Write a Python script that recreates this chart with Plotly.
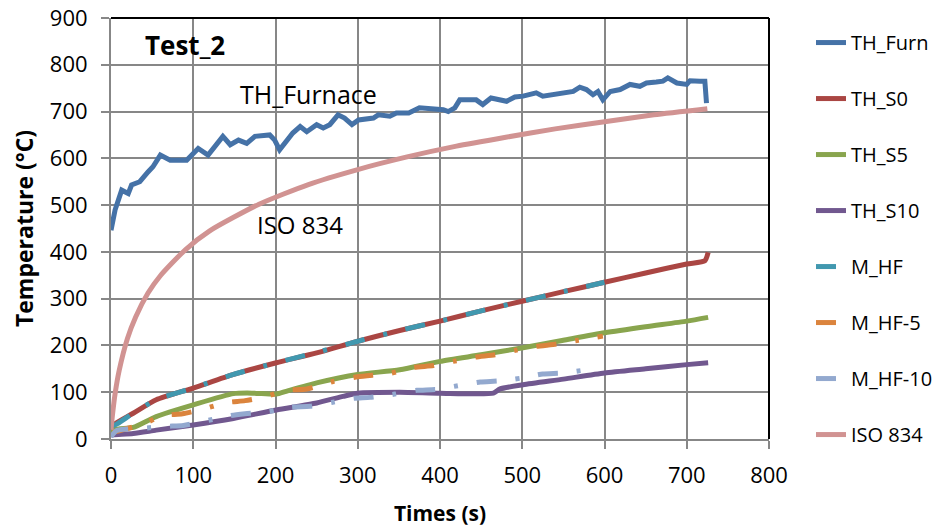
import plotly.graph_objects as go

# ---------------- data ----------------
t_furn = [0, 5, 13, 21, 25, 35, 45, 51, 60, 72, 92, 98, 106, 118, 126, 136, 145, 155, 165, 175,
          193, 199, 205, 213, 221, 230, 238, 250, 258, 266, 276, 284, 293, 301, 319, 325, 339, 347,
          362, 375, 404, 410, 418, 424, 444, 452, 462, 481, 491, 501, 517, 525, 546, 562, 570, 578,
          586, 592, 598, 607, 619, 631, 643, 651, 663, 671, 677, 688, 700, 704, 716, 722, 724]
T_furn = [446, 490, 532, 525, 543, 550, 571, 582, 607, 596, 596, 607, 621, 607, 625, 647, 629, 639, 632, 647,
          650, 639, 618, 636, 654, 668, 657, 672, 665, 672, 693, 686, 672, 682, 686, 693, 690, 697,
          697, 708, 704, 700, 708, 725, 725, 715, 729, 722, 731, 733, 740, 733, 740, 743, 752, 747,
          736, 743, 725, 743, 747, 758, 754, 761, 763, 765, 772, 761, 758, 766, 765, 765, 718]

t_s0 = [0, 3, 27, 55, 100, 149, 201, 250, 300, 351, 400, 450, 501, 550, 600, 650, 700, 722, 726]
T_s0 = [20, 30, 55, 84, 109, 138, 163, 184, 209, 232, 252, 274, 295, 315, 335, 355, 374, 381, 399]

t_s5 = [0, 5, 27, 55, 100, 149, 173, 201, 213, 250, 300, 351, 400, 450, 501, 550, 600, 650, 700, 726]
T_s5 = [12, 20, 25, 48, 73, 97, 98, 96, 102, 120, 138, 148, 166, 180, 195, 211, 227, 240, 252, 260]

t_s10 = [0, 3, 27, 55, 100, 149, 201, 250, 282, 300, 351, 400, 465, 473, 501, 550, 600, 650, 700, 726]
T_s10 = [8, 9, 12, 19, 30, 44, 62, 77, 91, 98, 100, 98, 98, 107, 116, 128, 141, 150, 159, 163]

t_mhf = [2, 8, 27, 55, 100, 149, 201, 250, 300, 351, 400, 450, 501, 550, 600]
T_mhf = [28, 33, 55, 84, 109, 138, 163, 185, 209, 232, 252, 274, 295, 315, 335]

t_mhf5 = [2, 39, 63, 87, 114, 141, 163, 189, 213, 238, 270, 300, 341, 368, 392, 416, 443, 467,
          493, 517, 542, 568, 598]
T_mhf5 = [14, 32, 50, 54, 65, 78, 82, 91, 104, 107, 123, 133, 141, 153, 157, 166, 175, 180,
          190, 198, 203, 211, 220]

t_mhf10 = [0, 7, 39, 68, 88, 116, 145, 163, 192, 218, 242, 268, 295, 315, 345, 372, 394, 422,
           449, 471, 498, 525, 548, 574]
T_mhf10 = [5, 18, 23, 27, 29, 39, 50, 54, 59, 68, 70, 78, 87, 89, 96, 104, 106, 114,
           122, 124, 130, 139, 141, 147]

t_iso = [0, 2, 5, 10, 20, 30, 45, 60, 90, 120, 180, 240, 300, 360, 420, 480, 540, 600, 660, 725]
T_iso = [20, 55, 97, 147, 215, 261, 312, 349, 404, 445, 502, 544, 576, 603, 626, 645, 663, 678, 693, 706]

x_ticks = [0, 100, 200, 300, 400, 500, 600, 700, 800]
y_ticks = [0, 100, 200, 300, 400, 500, 600, 700, 800, 900]

series = [
    ("TH_Furn", t_furn, T_furn, "#4572A7", "solid", "linear"),
    ("TH_S0", t_s0, T_s0, "#AA4643", "solid", "spline"),
    ("TH_S5", t_s5, T_s5, "#89A54E", "solid", "spline"),
    ("TH_S10", t_s10, T_s10, "#71588F", "solid", "spline"),
    ("M_HF", t_mhf, T_mhf, "#4198AF", "20px,19px,4px,19px", "spline"),
    ("M_HF-5", t_mhf5, T_mhf5, "#DB843D", "20px,19px,4px,19px", "spline"),
    ("M_HF-10", t_mhf10, T_mhf10, "#93A9CF", "20px,19px,4px,19px", "spline"),
    ("ISO 834", t_iso, T_iso, "#D19392", "solid", "spline"),
]

FONT = "Open Sans"
fig = go.Figure()
for i, (name, xs, ys, col, dash, shape) in enumerate(series):
    fig.add_trace(go.Scatter(
        x=xs, y=ys, name=name, mode="lines", legendgroup=f"g{i}",
        line=dict(color=col, width=5, dash=dash, shape=shape, smoothing=0.6),
    ))

GRID = "#878787"
fig.update_layout(
    width=943, height=528,
    margin=dict(l=111, r=174, t=18, b=89, autoexpand=False),
    paper_bgcolor="white", plot_bgcolor="white",
    font=dict(family=FONT, size=22, color="black"),
    showlegend=True,
    legend=dict(x=1.0638, xanchor="left", y=0.988, yanchor="top",
                font=dict(family=FONT, size=20, color="black"),
                tracegroupgap=27, bgcolor="rgba(0,0,0,0)", borderwidth=0,
                maxheight=1000),
    xaxis=dict(range=[0, 800], tickvals=x_ticks, ticktext=[str(v) for v in x_ticks],
               showgrid=True, gridcolor=GRID, gridwidth=2, zeroline=False,
               showline=True, linecolor=GRID, linewidth=2,
               ticks="outside", ticklen=8, tickcolor=GRID, tickwidth=2,
               ticklabelstandoff=8,
               tickfont=dict(family=FONT, size=22),
               title=dict(text="<b>Times (s)</b>", font=dict(family=FONT, size=21), standoff=18)),
    yaxis=dict(range=[0, 900], tickvals=y_ticks, ticktext=[str(v) for v in y_ticks],
               showgrid=True, gridcolor=GRID, gridwidth=2, zeroline=False,
               showline=True, linecolor=GRID, linewidth=2,
               ticks="outside", ticklen=8, tickcolor=GRID, tickwidth=2,
               ticklabelstandoff=9,
               tickfont=dict(family=FONT, size=22),
               title=dict(text="<b>Temperature (°C)</b>", font=dict(family=FONT, size=23), standoff=10)),
    shapes=[
        dict(type="line", xref="paper", yref="paper", x0=0, x1=1, y0=1, y1=1,
             line=dict(color="black", width=2), layer="above"),
        dict(type="line", xref="paper", yref="paper", x0=1, x1=1, y0=0, y1=1,
             line=dict(color="black", width=2), layer="above"),
    ],
    annotations=[
        dict(text="<b>Test_2</b>", x=0.112, y=0.935, xref="paper", yref="paper",
             showarrow=False, font=dict(family=FONT, size=26), xanchor="center", yanchor="middle"),
        dict(text="TH_Furnace", x=0.2995, y=0.82, xref="paper", yref="paper",
             showarrow=False, font=dict(family=FONT, size=25), xanchor="center", yanchor="middle"),
        dict(text="ISO 834", x=0.287, y=0.51, xref="paper", yref="paper",
             showarrow=False, font=dict(family=FONT, size=24), xanchor="center", yanchor="middle"),
    ],
)

fig.write_html("out.html")
